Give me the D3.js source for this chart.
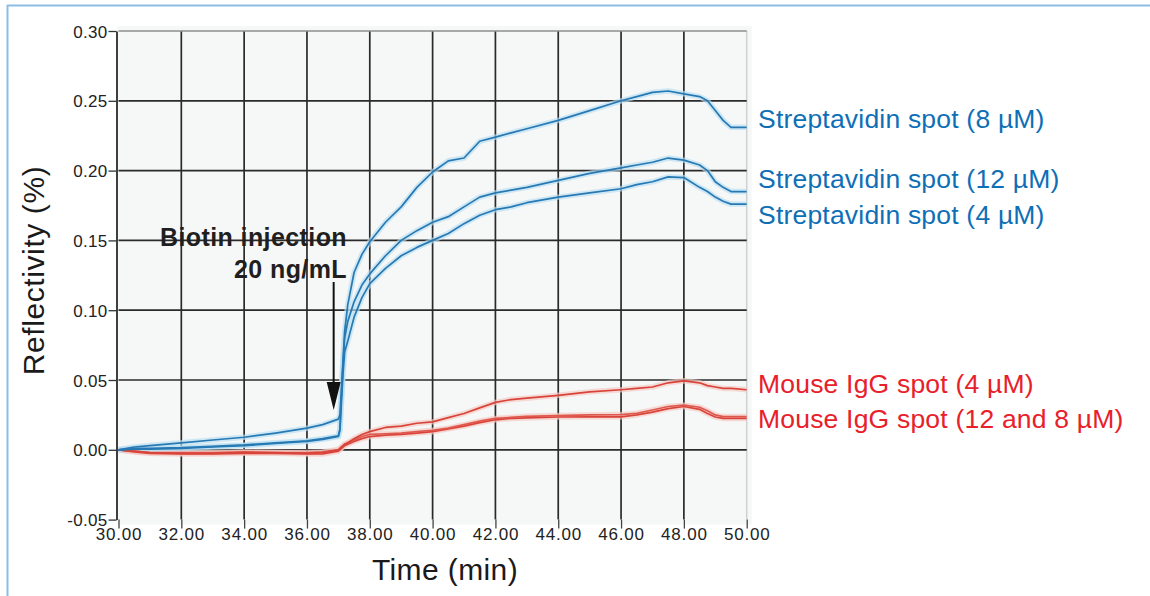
<!DOCTYPE html>
<html>
<head>
<meta charset="utf-8">
<script src="https://cdn.jsdelivr.net/npm/d3@7"></script>
<style>
  html, body { margin: 0; padding: 0; background: #fff; }
  svg { display: block; font-family: "Liberation Sans", Arial, Helvetica, sans-serif; }
</style>
</head>
<body>
<svg id="chart" width="1150" height="596"></svg>
<script>
// ---------------- data ----------------
const time = [30, 30.5, 31, 32, 33, 34, 35, 36, 36.5, 37.0, 37.05, 37.1, 37.15, 37.2, 37.3, 37.5, 37.75,
  38, 38.5, 39, 39.5, 40, 40.5, 41, 41.5, 42, 42.5, 43, 44, 45, 46, 46.5, 47, 47.5, 48, 48.5, 48.75, 49, 49.25, 49.5, 50];

const strep8 = [0, 0.002, 0.003, 0.005, 0.007, 0.009, 0.012, 0.0155, 0.018, 0.022, 0.025, 0.045, 0.065, 0.085, 0.104, 0.127, 0.140,
  0.149, 0.163, 0.174, 0.188, 0.199, 0.207, 0.209, 0.221, 0.224, 0.227, 0.230, 0.236, 0.243, 0.250, 0.253, 0.256, 0.257, 0.255, 0.253, 0.250, 0.243, 0.236, 0.231, 0.231];

const strep12 = [0, 0.001, 0.001, 0.0015, 0.0025, 0.0035, 0.005, 0.0065, 0.008, 0.010, 0.015, 0.040, 0.062, 0.080, 0.092, 0.106, 0.118,
  0.126, 0.139, 0.150, 0.157, 0.163, 0.167, 0.174, 0.181, 0.184, 0.186, 0.188, 0.193, 0.198, 0.202, 0.204, 0.206, 0.209, 0.2075, 0.204, 0.200, 0.192, 0.188, 0.185, 0.185];

const strep4 = [0, 0.0005, 0.0005, 0.001, 0.002, 0.003, 0.0045, 0.006, 0.0075, 0.0095, 0.014, 0.035, 0.055, 0.070, 0.078, 0.095, 0.109,
  0.119, 0.130, 0.139, 0.145, 0.150, 0.155, 0.162, 0.168, 0.172, 0.174, 0.177, 0.181, 0.184, 0.187, 0.190, 0.192, 0.1955, 0.195, 0.188, 0.185, 0.181, 0.178, 0.176, 0.176];

const igg4 = [0, -0.001, -0.002, -0.0025, -0.0025, -0.002, -0.002, -0.0025, -0.002, 0.000, 0.001, 0.002, 0.003, 0.004, 0.005, 0.008, 0.011,
  0.013, 0.016, 0.017, 0.019, 0.020, 0.023, 0.026, 0.030, 0.034, 0.036, 0.037, 0.039, 0.0415, 0.043, 0.044, 0.045, 0.048, 0.0494, 0.048, 0.046, 0.045, 0.044, 0.044, 0.043];

const igg12 = [0, -0.0015, -0.0025, -0.003, -0.003, -0.0025, -0.0025, -0.003, -0.003, -0.001, 0.000, 0.001, 0.002, 0.003, 0.004, 0.006, 0.008,
  0.0095, 0.0105, 0.011, 0.012, 0.013, 0.015, 0.017, 0.0195, 0.0215, 0.0225, 0.0228, 0.0235, 0.0236, 0.0236, 0.025, 0.027, 0.0295, 0.031, 0.029, 0.026, 0.0235, 0.0225, 0.0225, 0.0225];

const igg8 = [0, -0.001, -0.002, -0.002, -0.002, -0.0015, -0.002, -0.002, -0.0015, 0.000, 0.001, 0.002, 0.003, 0.004, 0.005, 0.007, 0.0095,
  0.011, 0.0115, 0.012, 0.013, 0.014, 0.0155, 0.018, 0.0205, 0.0225, 0.0232, 0.024, 0.0245, 0.025, 0.0252, 0.0262, 0.0285, 0.031, 0.032, 0.0305, 0.028, 0.025, 0.0238, 0.0238, 0.0238];

const xTicks = [30, 32, 34, 36, 38, 40, 42, 44, 46, 48, 50];
const xTickLabels = ["30.00", "32.00", "34.00", "36.00", "38.00", "40.00", "42.00", "44.00", "46.00", "48.00", "50.00"];
const yTicks = [-0.05, 0, 0.05, 0.10, 0.15, 0.20, 0.25, 0.30];
const yTickLabels = ["-0.05", "0.00", "0.05", "0.10", "0.15", "0.20", "0.25", "0.30"];

const seriesNames = ["Streptavidin spot (8 µM)", "Streptavidin spot (12 µM)", "Streptavidin spot (4 µM)",
  "Mouse IgG spot (4 µM)", "Mouse IgG spot (12 and 8 µM)"];
const xTitle = "Time (min)";
const yTitle = "Reflectivity (%)";
const annotLines = ["Biotin injection", "20 ng/mL"];
const injectionTime = 36.85;

// ---------------- layout ----------------
const svg = d3.select("#chart");
const x = d3.scaleLinear().domain([30, 50]).range([118.5, 746.7]);
const y = d3.scaleLinear().domain([-0.05, 0.30]).range([519.6, 31]);

// outer frame (top and left)
svg.append("line").attr("x1", 7).attr("x2", 1150).attr("y1", 5.5).attr("y2", 5.5)
  .attr("stroke", "#8dbde3").attr("stroke-width", 2);
svg.append("line").attr("x1", 7.5).attr("x2", 7.5).attr("y1", 5).attr("y2", 596)
  .attr("stroke", "#8dbde3").attr("stroke-width", 2);

// plot background
svg.append("rect").attr("x", x(30) - 2).attr("y", y(0.30) - 5)
  .attr("width", x(50) - x(30) + 7).attr("height", y(-0.05) - y(0.30) + 10)
  .attr("fill", "#f6f7f7");

// grid
const grid = svg.append("g");
grid.selectAll("line.v").data(xTicks.filter(d => d > 30)).join("line")
  .attr("x1", d => x(d)).attr("x2", d => x(d))
  .attr("y1", y(0.30)).attr("y2", y(-0.05))
  .attr("stroke", d => d === 50 ? "#cfd1d1" : "#2a2a2a")
  .attr("stroke-width", d => d === 50 ? 1.5 : 1.7);
grid.selectAll("line.h").data(yTicks.filter(d => d > -0.05)).join("line")
  .attr("x1", x(30)).attr("x2", x(50))
  .attr("y1", d => y(d)).attr("y2", d => y(d))
  .attr("stroke", d => d === 0.30 ? "#8c8f8f" : "#2a2a2a")
  .attr("stroke-width", 1.7);

// axes
const yAxis = d3.axisLeft(y).tickValues(yTicks).tickSize(8).tickSizeOuter(0)
  .tickFormat((d, i) => yTickLabels[i]);
const gy = svg.append("g").attr("transform", `translate(${x(30) - 2},0)`).call(yAxis);
gy.select(".domain").attr("stroke", "#2a2a2a").attr("stroke-width", 1.8);
gy.selectAll(".tick line").attr("stroke", "#333").attr("stroke-width", 1.3);
gy.selectAll(".tick text").attr("font-size", 17).attr("fill", "#222").attr("x", -9)
  .attr("dy", "0.36em").style("letter-spacing", "0.3px")
  .style("font-family", "'Liberation Sans', Arial, sans-serif");

const xAxis = d3.axisBottom(x).tickValues(xTicks).tickSize(9).tickSizeOuter(0)
  .tickFormat((d, i) => xTickLabels[i]);
const gx = svg.append("g").attr("transform", `translate(0,${y(-0.05)})`).call(xAxis);
gx.select(".domain").remove();
gx.selectAll(".tick line").attr("stroke", "#444").attr("stroke-width", 1.3);
gx.selectAll(".tick text").attr("font-size", 17).attr("fill", "#222")
  .attr("y", 8).attr("dy", "0.71em").style("letter-spacing", "0.8px")
  .style("font-family", "'Liberation Sans', Arial, sans-serif");

// axis titles
svg.append("text").attr("x", 445).attr("y", 580).attr("text-anchor", "middle")
  .attr("font-size", 30).attr("fill", "#1a1a1a").style("letter-spacing", "0.4px").text(xTitle);
svg.append("text").attr("transform", `translate(44,270.5) rotate(-90)`)
  .attr("text-anchor", "middle").attr("font-size", 30).attr("fill", "#1a1a1a")
  .style("letter-spacing", "0.6px").text(yTitle);

// curves
const line = d3.line().x((d, i) => x(time[i])).y(d => y(d));
const curves = [
  { v: igg12, c: "#d9443a", blue: false }, { v: igg8, c: "#e0574d", blue: false }, { v: igg4, c: "#d9443a", blue: false },
  { v: strep4, c: "#2779b3", blue: true }, { v: strep12, c: "#2779b3", blue: true }, { v: strep8, c: "#2779b3", blue: true }
];
const cg = svg.append("g").attr("fill", "none").attr("stroke-linejoin", "round");
cg.selectAll("path.halo").data(curves).join("path")
  .attr("d", d => line(d.v))
  .attr("stroke", d => d.blue ? "#b9def2" : "#f4c9c3")
  .attr("stroke-width", 5.5).attr("opacity", 0.65);
cg.selectAll("path.core").data(curves).join("path")
  .attr("d", d => line(d.v))
  .attr("stroke", d => d.c).attr("stroke-width", 1.7);

// annotation
svg.append("text").attr("x", 347).attr("y", 246).attr("text-anchor", "end")
  .attr("font-size", 25).attr("font-weight", "bold").attr("fill", "#1f1f1f")
  .style("letter-spacing", "0.4px").text(annotLines[0]);
svg.append("text").attr("x", 347).attr("y", 278).attr("text-anchor", "end")
  .attr("font-size", 25).attr("font-weight", "bold").attr("fill", "#1f1f1f")
  .style("letter-spacing", "0.4px").text(annotLines[1]);
const ax = x(injectionTime);
svg.append("line").attr("x1", ax).attr("x2", ax).attr("y1", 282).attr("y2", 384)
  .attr("stroke", "#111").attr("stroke-width", 2);
svg.append("path")
  .attr("d", `M${ax - 7},382 L${ax + 7},382 L${ax},410 Z`).attr("fill", "#111");

// series labels
const labelColors = ["#0f6fb6", "#0f6fb6", "#0f6fb6", "#e8202a", "#e8202a"];
const labelBaselines = [128, 188, 224, 393, 428];
svg.append("g").selectAll("text").data(seriesNames).join("text")
  .attr("x", 758).attr("y", (d, i) => labelBaselines[i])
  .attr("font-size", 26.5).attr("fill", (d, i) => labelColors[i])
  .style("letter-spacing", "0.2px").text(d => d);
</script>
</body>
</html>
